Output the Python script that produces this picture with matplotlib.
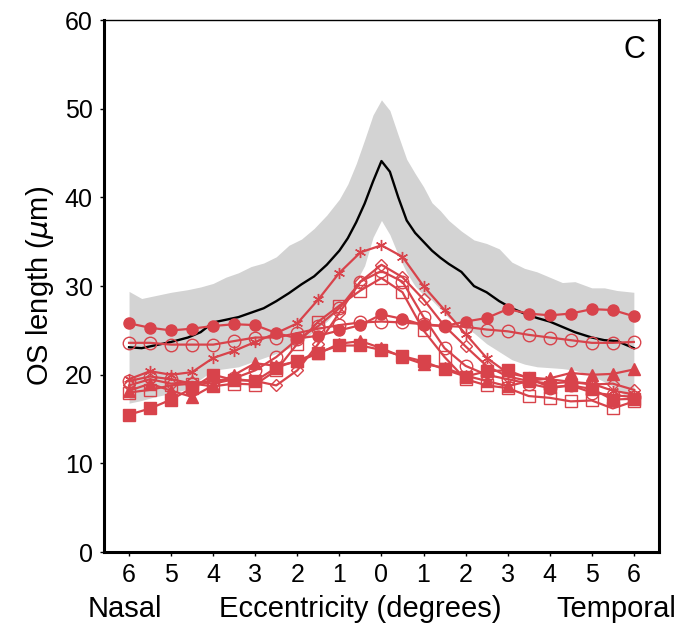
import numpy as np
import matplotlib.pyplot as plt

plt.rcParams['font.family'] = ['Liberation Sans', 'DejaVu Sans']

# shaded band and mean (fine grid)
band_x = [-6, -5.7, -5.4, -5.0, -4.6, -4.3, -4.0, -3.7, -3.4, -3.1, -2.8, -2.5, -2.2, -1.9, -1.6,
          -1.3, -1.0, -0.8, -0.6, -0.4, -0.2, 0, 0.2, 0.4, 0.6, 0.8, 1.0, 1.2, 1.4, 1.6, 1.9,
          2.2, 2.5, 2.8, 3.1, 3.4, 3.7, 4.0, 4.3, 4.6, 5.0, 5.3, 5.6, 6]
band_hi = [29.4, 28.6, 28.9, 29.3, 29.6, 29.9, 30.3, 31.0, 31.5, 32.2, 32.6, 33.3, 34.6, 35.3, 36.5,
           38.0, 39.8, 41.5, 43.8, 46.5, 49.3, 51.0, 49.8, 47.0, 44.3, 42.7, 41.2, 39.4, 38.5, 37.4, 36.2,
           35.2, 34.8, 34.2, 32.7, 32.0, 31.6, 31.0, 30.4, 30.5, 29.8, 29.8, 29.5, 29.3]
band_lo = [16.8, 17.1, 17.5, 17.9, 18.4, 19.5, 20.5, 20.7, 20.9, 21.4, 21.9, 22.4, 23.0, 23.8, 24.9,
           26.0, 27.5, 28.8, 30.5, 32.3, 35.5, 37.4, 35.8, 33.5, 31.5, 30.0, 29.0, 28.4, 27.4, 26.4, 25.6,
           24.7, 23.5, 22.6, 21.7, 21.2, 20.9, 20.8, 20.7, 20.5, 19.9, 19.2, 18.4, 16.8]
mean_y = [23.1, 23.0, 23.3, 23.7, 24.2, 24.8, 25.9, 26.2, 26.5, 27.0, 27.5, 28.3, 29.2, 30.2, 31.1,
          32.4, 34.0, 35.4, 37.2, 39.3, 41.8, 44.1, 42.9, 40.0, 37.4, 36.0, 35.0, 34.0, 33.2, 32.5, 31.6,
          30.0, 29.3, 28.3, 27.5, 26.9, 26.4, 26.0, 25.4, 24.8, 24.2, 23.9, 23.8, 23.0]

# individual eyes (0.5 degree grid)
ecc = np.arange(-6, 6.01, 0.5)
filled_circle = [25.8, 25.3, 25.0, 25.2, 25.5, 25.7, 25.6, 24.7, 24.1, 24.4, 25.0, 25.6, 26.8,
                 26.3, 25.6, 25.5, 26.0, 26.4, 27.4, 26.9, 26.7, 26.9, 27.4, 27.3, 26.6]
open_circle_flat = [23.6, 23.6, 23.4, 23.4, 23.4, 23.8, 24.2, 24.2, 24.7, 25.2, 25.6, 25.9, 26.0,
                    25.9, 25.7, 25.5, 25.4, 25.1, 24.9, 24.5, 24.2, 23.9, 23.6, 23.6, 23.7]
star = [19.5, 20.4, 20.0, 20.3, 21.9, 22.7, 23.7, 24.7, 25.8, 28.5, 31.5, 33.8, 34.6,
        33.3, 30.0, 27.3, 24.6, 21.9, 20.2, 19.7, 19.5, 19.2, 19.0, 18.2, 17.8]
open_diamond = [18.8, 19.5, 19.0, 19.2, 19.0, 19.5, 19.3, 18.8, 20.5, 23.5, 27.0, 30.5, 32.4,
                31.0, 28.5, 25.5, 23.2, 21.0, 19.8, 19.3, 19.0, 19.2, 18.9, 19.0, 18.3]
open_square = [18.0, 18.3, 18.8, 19.0, 18.7, 19.0, 18.9, 20.5, 23.5, 26.0, 27.8, 29.5, 30.9,
               29.3, 25.0, 22.0, 19.5, 18.8, 18.5, 17.6, 17.4, 17.0, 17.1, 16.2, 17.0]
open_circle_peak = [19.3, 19.8, 19.5, 19.0, 19.3, 19.6, 20.5, 22.0, 24.0, 25.5, 27.5, 30.5, 31.7,
                    30.5, 26.5, 23.0, 21.0, 20.0, 19.5, 19.0, 18.5, 18.8, 18.0, 17.7, 17.5]
filled_square = [15.5, 16.2, 17.2, 18.5, 20.0, 19.4, 19.3, 20.8, 21.6, 22.5, 23.3, 23.3, 22.8,
                 22.1, 21.5, 20.6, 19.8, 20.4, 20.5, 19.6, 18.6, 18.8, 18.4, 17.2, 17.3]
filled_triangle = [18.2, 19.0, 18.2, 17.5, 18.8, 20.0, 21.3, 21.0, 21.5, 22.4, 23.5, 23.8, 23.0,
                   22.0, 21.2, 20.8, 19.9, 19.3, 18.7, 19.3, 19.6, 20.2, 20.0, 20.1, 20.6]

red = '#d8434b'

fig = plt.figure(figsize=(6.83, 6.26), dpi=100)
ax = fig.add_axes([0.152, 0.118, 0.813, 0.85])

ax.fill_between(band_x, band_lo, band_hi, color='#d3d3d3', lw=0, zorder=1)
ax.plot(band_x, mean_y, color='black', lw=1.7, zorder=3)

series = [
    (filled_circle, 'o', True),
    (open_circle_flat, 'o', False),
    (star, (6, 2, 0), False),
    (open_diamond, 'D', False),
    (open_square, 's', False),
    (open_circle_peak, 'o', False),
    (filled_square, 's', True),
    (filled_triangle, '^', True),
]
for vals, mk, filled in series:
    ms = 6.5 if mk == 'D' else 8
    if mk == 'o' and not filled:
        ms = 9
    ax.plot(ecc, vals, color=red, lw=1.6, marker=mk, ms=ms,
            mfc=red if filled else 'none', mec=red, mew=1.0, zorder=4)

ax.set_xlim(-6.6, 6.6)
ax.set_ylim(0, 60)
ax.set_xticks(range(-6, 7))
ax.set_xticklabels([str(abs(v)) for v in range(-6, 7)])
ax.set_yticks(range(0, 61, 10))
ax.tick_params(labelsize=18, length=3, width=1, direction='out', pad=5)

for side in ['left', 'bottom', 'right']:
    ax.spines[side].set_linewidth(2.2)
ax.spines['top'].set_linewidth(1.0)

ax.set_ylabel(r'OS length ($\mu$m)', fontsize=21, labelpad=6)
ax.text(0.975, 0.972, 'C', transform=ax.transAxes, ha='right', va='top', fontsize=22)

fig.text(0.183, 0.015, 'Nasal', ha='center', fontsize=21)
fig.text(0.528, 0.015, 'Eccentricity (degrees)', ha='center', fontsize=21)
fig.text(0.903, 0.015, 'Temporal', ha='center', fontsize=21)

fig.savefig('out.png', dpi=100)
